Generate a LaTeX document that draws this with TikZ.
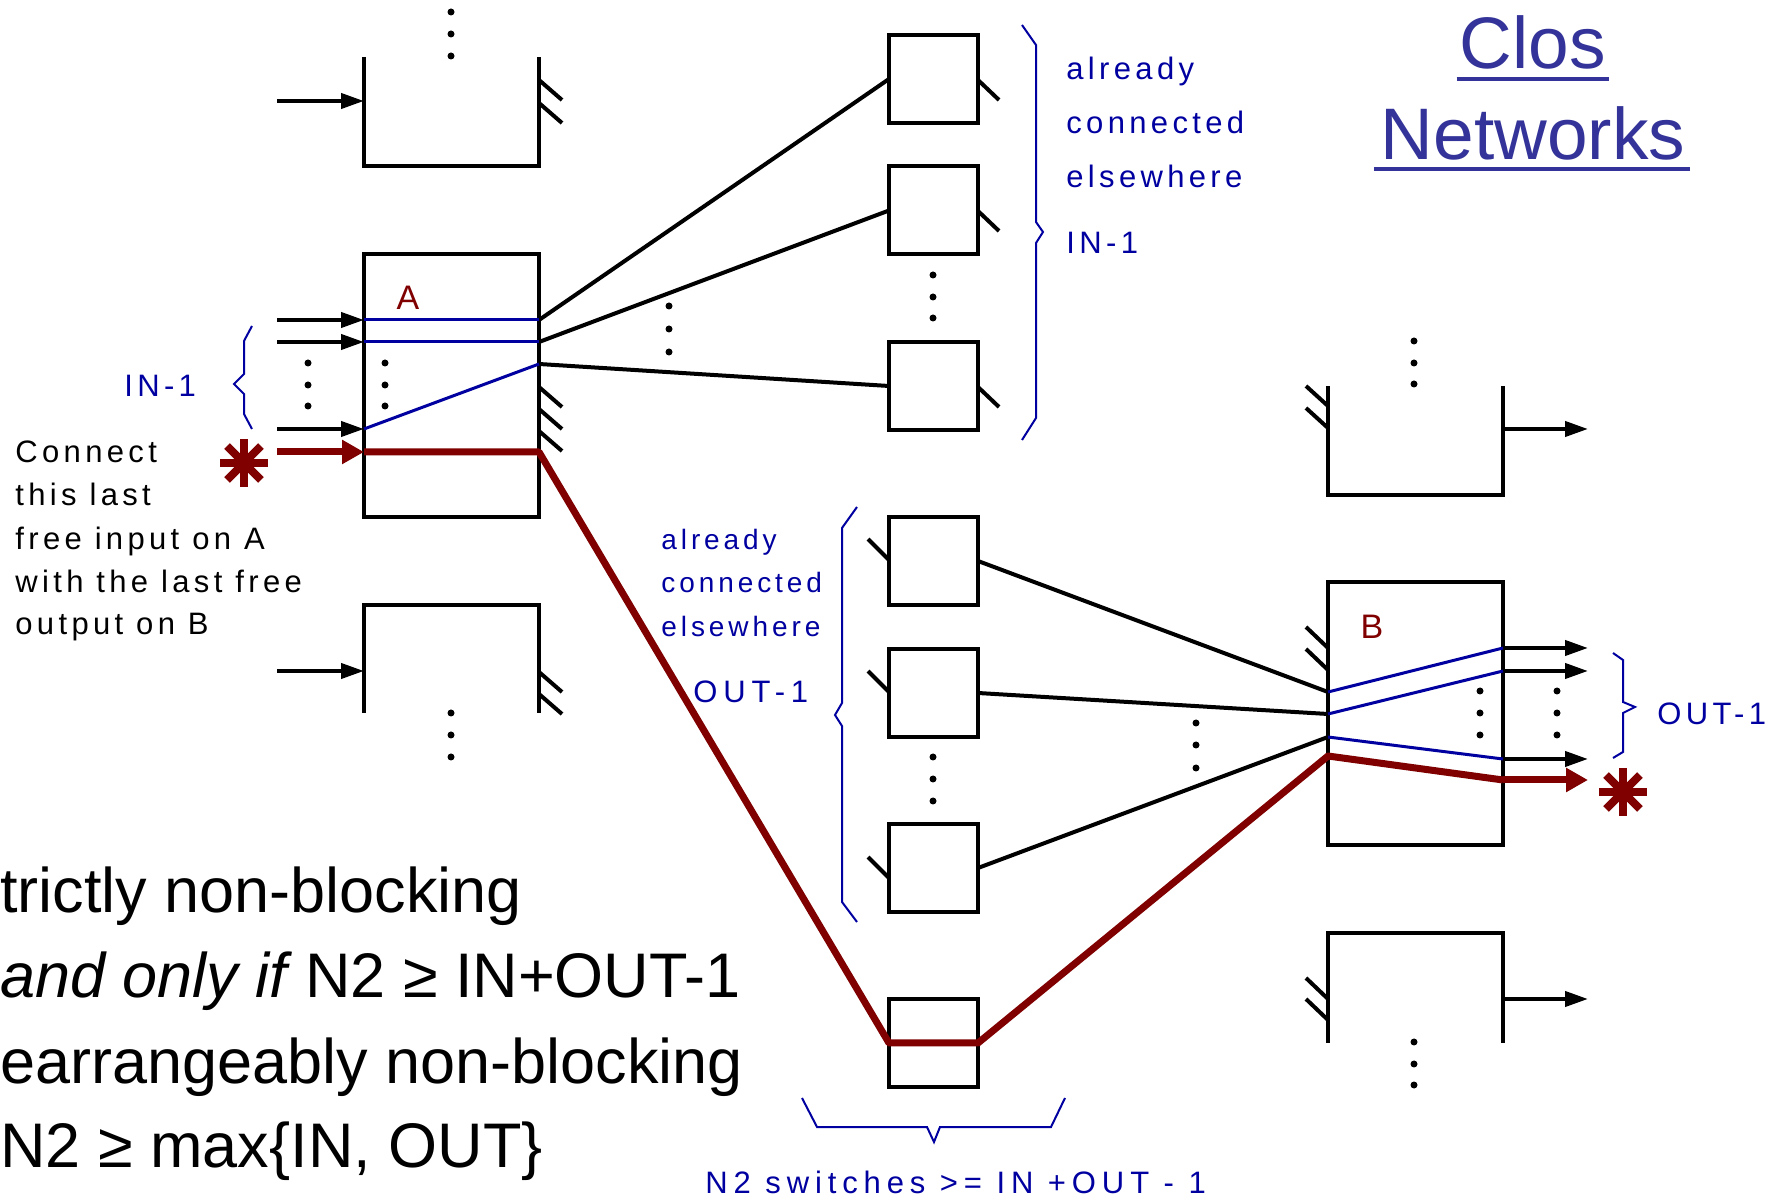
\documentclass[tikz,border=0pt]{standalone}
\usepackage{fontspec}
\setmainfont{Liberation Sans}
\newfontfamily\trk[LetterSpace=14]{Liberation Sans}
\newfontfamily\trkw[LetterSpace=19]{Liberation Sans}
\usetikzlibrary{arrows.meta}
\definecolor{maroon}{RGB}{128,0,0}
\definecolor{lblue}{RGB}{0,0,160}
\definecolor{tblue}{RGB}{51,51,153}
\begin{document}
\begin{tikzpicture}[x=0.5pt,y=-0.5pt,
  sw/.style={draw=black,line width=2pt,inner sep=0pt,outer sep=0pt,minimum width=44.5pt,minimum height=44pt},
  big/.style={draw=black,line width=2pt,inner sep=0pt,outer sep=0pt,minimum width=87.5pt,minimum height=131.5pt},
  wire/.style={line width=2pt,line cap=butt},
  inarr/.style={line width=2pt,-{Triangle[length=11.5pt,width=7.5pt]}},
  redarr/.style={maroon,line width=3.5pt,-{Triangle[length=11pt,width=11.5pt]}},
  redw/.style={maroon,line width=3.5pt,line join=round},
  bluew/.style={lblue,line width=1.5pt},
  hatch/.style={line width=2pt},
  brace/.style={lblue,line width=1pt},
  openbox/.style={line width=2pt,line join=miter},
  dot/.style={fill=black},
  small/.style={lblue,inner sep=0pt,font=\trk\fontsize{15.5pt}{18pt}\selectfont},
  smaller/.style={lblue,inner sep=0pt,font=\trk\fontsize{14pt}{17pt}\selectfont},
  smallw/.style={lblue,inner sep=0pt,font=\trkw\fontsize{15.5pt}{18pt}\selectfont},
  smallk/.style={black,inner sep=0pt,font=\trk\fontsize{15.5pt}{18pt}\selectfont},
  lab/.style={maroon,inner sep=0pt,font=\fontsize{17pt}{20pt}\selectfont},
  ttl/.style={tblue,inner sep=0pt,font=\fontsize{36.5pt}{40pt}\selectfont},
  bigtxt/.style={black,inner sep=0pt,font=\fontsize{31.5pt}{36pt}\selectfont}
]
\useasboundingbox (0,0) rectangle (1779,1202);

% ---------- title ----------
\node[ttl,anchor=base] (clos) at (1533,69) {Clos};
\node[ttl,anchor=base] (netw) at (1533,160) {Networks};
\draw[tblue,line width=2pt] ([xshift=-1.5pt,yshift=-5pt]clos.base west) -- ([xshift=1.5pt,yshift=-5pt]clos.base east);
\draw[tblue,line width=2pt] ([xshift=-3pt,yshift=-4.5pt]netw.base west) -- ([xshift=2pt,yshift=-4.5pt]netw.base east);

% ---------- switch boxes ----------
\node[big] (A) at (451.5,385.5) {};
\node[big] (B) at (1415.5,714) {};
\node[sw] (m1) at (933.5,79) {};
\node[sw] (m2) at (933.5,210.5) {};
\node[sw] (m3) at (933.5,386) {};
\node[sw] (n1) at (933.5,561) {};
\node[sw] (n2) at (933.5,693) {};
\node[sw] (n3) at (933.5,868) {};
\node[sw] (s) at (933.5,1043) {};
\node[lab] (Alab) at (408,298) {A};
\node[lab] (Blab) at (1372,627) {B};

% ---------- open (partial) boxes ----------
\draw[openbox] (364,57) -- (364,166) -- (539,166) -- (539,57);
\draw[openbox] (364,713) -- (364,605) -- (539,605) -- (539,713);
\draw[openbox] (1328,386) -- (1328,495) -- (1503,495) -- (1503,386);
\draw[openbox] (1328,1043) -- (1328,933) -- (1503,933) -- (1503,1043);

% ---------- hatches ----------
\foreach \y in {80,103} \draw[hatch] (539,\y) -- (562,\y+20);
\foreach \y in {672,694} \draw[hatch] (539,\y) -- (562,\y+20);
\foreach \y in {387,409,431} \draw[hatch] (539,\y) -- (562,\y+20);
\foreach \y in {386,408} \draw[hatch] (1306,\y) -- (1328,\y+20);
\foreach \y in {978,999} \draw[hatch] (1306,\y) -- (1328,\y+21);
\foreach \y in {627,649} \draw[hatch] (1306,\y) -- (1328,\y+21);
\foreach \y in {80,211,387} \draw[hatch] (978,\y) -- (999,\y+20);
\foreach \y in {539,671,857} \draw[hatch] (868,\y) -- (889,\y+21);

% ---------- dots ----------
\foreach \p in {(451,12),(451,34),(451,56),
  (308,363),(308,385),(308,406),(385,363),(385,385),(385,406),
  (669,306),(669,329),(669,352),
  (933,275),(933,297),(933,318),
  (933,757),(933,779),(933,801),
  (1196,723),(1196,745),(1196,768),
  (1480,691),(1480,713),(1480,735),(1557,691),(1557,713),(1557,735),
  (1414,341),(1414,363),(1414,384),
  (1414,1042),(1414,1064),(1414,1085),
  (451,713),(451,735),(451,757)}
  \fill[dot] \p circle[radius=1.75pt];

% ---------- port coordinates ----------
\coordinate (tl) at (277,101);   \coordinate (tlin) at (364,101);
\coordinate (bl) at (277,671);   \coordinate (blin) at (364,671);
\coordinate (tr) at (1503,429);  \coordinate (trout) at (1588,429);
\coordinate (br) at (1503,999);  \coordinate (brout) at (1588,999);
\coordinate (si1) at (277,320); \coordinate (ai1) at (364,320);
\coordinate (si2) at (277,342); \coordinate (ai2) at (364,342);
\coordinate (si3) at (277,429); \coordinate (ai3) at (364,429);
\coordinate (si4) at (277,452); \coordinate (ai4) at (364,452);
\coordinate (ao1) at (539,320);
\coordinate (ao2) at (539,342);
\coordinate (ao3) at (539,364);
\coordinate (ao4) at (539,452);
\coordinate (bi1) at (1328,692);
\coordinate (bi2) at (1328,714);
\coordinate (bi3) at (1328,737);
\coordinate (bi4) at (1328,756);
\coordinate (bo1) at (1503,648); \coordinate (t1) at (1588,648);
\coordinate (bo2) at (1503,671); \coordinate (t2) at (1588,671);
\coordinate (bo3) at (1503,759); \coordinate (t3) at (1588,759);
\coordinate (bo4) at (1503,780); \coordinate (t4) at (1588,780);

% ---------- input / output arrows ----------
\draw[inarr] (tl) -- (tlin);
\draw[inarr] (bl) -- (blin);
\draw[inarr] (tr) -- (trout);
\draw[inarr] (br) -- (brout);
\draw[inarr] (si1) -- (ai1);
\draw[inarr] (si2) -- (ai2);
\draw[inarr] (si3) -- (ai3);
\draw[inarr] (bo1) -- (t1);
\draw[inarr] (bo2) -- (t2);
\draw[inarr] (bo3) -- (t3);

% ---------- wires between stages ----------
\draw[wire] (ao1) -- (m1.west);
\draw[wire] (ao2) -- (m2.west);
\draw[wire] (ao3) -- (m3.west);
\draw[wire] (n1.east) -- (bi1);
\draw[wire] (n2.east) -- (bi2);
\draw[wire] (n3.east) -- (bi3);

% ---------- internal connections ----------
\draw[bluew] (ai1) -- (ao1);
\draw[bluew] (ai2) -- (ao2);
\draw[bluew] (ai3) -- (ao3);
\draw[bluew] (bi1) -- (bo1);
\draw[bluew] (bi2) -- (bo2);
\draw[bluew] (bi3) -- (bo3);

% ---------- the new red connection ----------
\draw[redarr] (si4) -- (ai4);
\draw[redw] (ai4) -- (ao4) -- (s.west) -- (s.east) -- (bi4) -- (bo4);
\draw[redarr] (bo4) -- (t4);

% ---------- asterisks ----------
\coordinate (astL) at (244,463);
\coordinate (astR) at (1623,792);
\foreach \c in {astL,astR}
  \foreach \a in {0,45,90,135}
    \draw[maroon,line width=4pt] (\c) ++(\a:12pt) -- ++(\a+180:24pt);

% ---------- braces ----------
\draw[brace] (252,326) -- (244,341) -- (244,374) -- (234,384) -- (244,394) -- (244,414) -- (252,429);
\draw[brace] (1022,25) -- (1036,45) -- (1036,222) -- (1043,232) -- (1036,243) -- (1036,418) -- (1022,440);
\draw[brace] (857,507) -- (842,528) -- (842,703) -- (835,715) -- (842,726) -- (842,902) -- (857,922);
\draw[brace] (1613,653) -- (1623,660) -- (1623,702) -- (1635,707) -- (1623,713) -- (1623,752) -- (1613,758);
\draw[brace] (802,1098) -- (817,1127) -- (927,1127) -- (934,1142) -- (940,1127) -- (1051,1127) -- (1065,1098);

% ---------- labels ----------
\node[small,anchor=base west] (inL) at (124,397) {IN-1};
\node[smallk,anchor=base west] (c1) at (15,463) {Connect};
\node[smallk,anchor=base west] (c2) at (15,506) {this last};
\node[smallk,anchor=base west] (c3) at (15,550) {free input on A};
\node[smallk,anchor=base west] (c4) at (15,593) {with the last free};
\node[smallk,anchor=base west] (c5) at (15,635) {output on B};

\node[small,anchor=base west] (u1) at (1066,80) {already};
\node[small,anchor=base west] (u2) at (1066,134) {connected};
\node[small,anchor=base west] (u3) at (1066,188) {elsewhere};
\node[small,anchor=base west] (u4) at (1066,254) {IN-1};

\node[smaller,anchor=base west] (d1) at (661,550) {already};
\node[smaller,anchor=base west] (d2) at (661,593) {connected};
\node[smaller,anchor=base west] (d3) at (661,637) {elsewhere};
\node[smallw,anchor=base west] (d4) at (693,703) {OUT-1};

\node[small,anchor=base west] (outR) at (1657,725) {OUT-1};
\node[smallw,anchor=base west] (n2lab) at (705,1193) {N2 switches >= IN +OUT - 1};

% ---------- big text ----------
\node[bigtxt,anchor=base west] (l1) at (0,913) {trictly non-blocking};
\node[bigtxt,anchor=base west] (l2) at (0,998) {{\itshape and only if} N2 ≥ IN+OUT-1};
\node[bigtxt,anchor=base west] (l3) at (0,1083) {earrangeably non-blocking};
\node[bigtxt,anchor=base west] (l4) at (0,1167) {N2 ≥ max\{IN, OUT\}};
\end{tikzpicture}
\end{document}
